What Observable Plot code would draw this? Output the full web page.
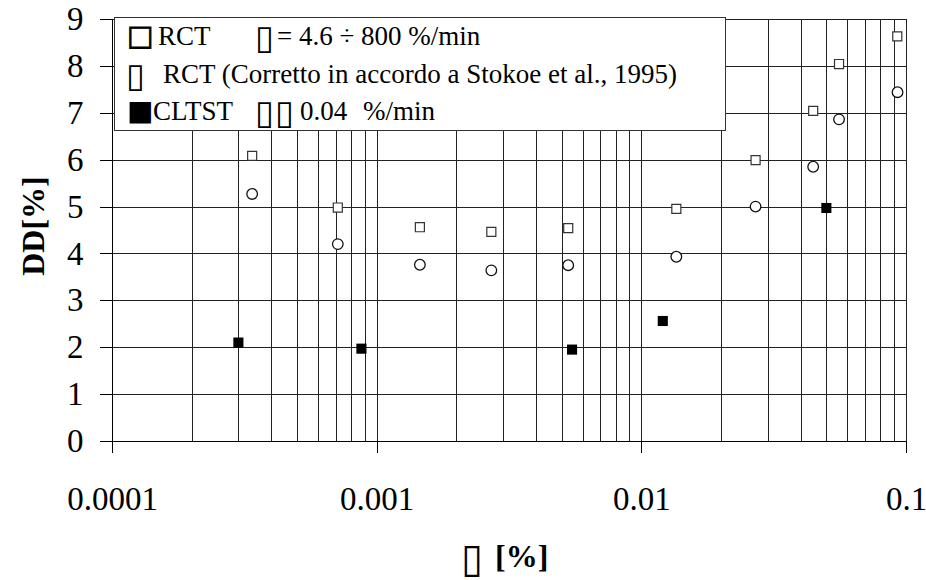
<!DOCTYPE html>
<html>
<head>
<meta charset="utf-8">
<script src="https://cdn.jsdelivr.net/npm/d3@7"></script>
<script src="https://cdn.jsdelivr.net/npm/@observablehq/plot@0.6"></script>
<style>
  html, body { margin: 0; padding: 0; background: #fff; }
  #chart svg { display: block; }
</style>
</head>
<body>
<div id="chart"></div>
<script>
// Damping ratio D [%] against shear strain γ [%]
// RCT measurements (open squares)
const rctStrain = [3.37e-4, 7.10e-4, 1.45e-3, 2.70e-3, 5.27e-3, 1.35e-2, 2.69e-2, 4.44e-2, 5.56e-2, 9.23e-2];
const rctDamping = [6.09, 4.99, 4.57, 4.47, 4.55, 4.96, 6.00, 7.05, 8.05, 8.64];

// RCT corrected after Stokoe et al., 1995 (open circles)
const corrStrain = [3.37e-4, 7.10e-4, 1.45e-3, 2.70e-3, 5.27e-3, 1.35e-2, 2.69e-2, 4.44e-2, 5.56e-2, 9.25e-2];
const corrDamping = [5.28, 4.21, 3.77, 3.65, 3.76, 3.94, 5.01, 5.86, 6.87, 7.45];

// CLTST measurements (filled squares)
const cltstStrain = [2.99e-4, 8.72e-4, 5.45e-3, 1.20e-2, 4.98e-2];
const cltstDamping = [2.11, 1.98, 1.96, 2.57, 4.98];

// Axis ticks
const xTicks = [0.0001, 0.001, 0.01, 0.1];
const xTickLabels = ["0.0001", "0.001", "0.01", "0.1"];
const yTicks = [0, 1, 2, 3, 4, 5, 6, 7, 8, 9];

// Legend and axis titles
const legendLines = [
  ["□", "RCT", "▯", "= 4.6 ÷ 800 %/min"],
  ["▯", "RCT (Corretto in accordo a Stokoe et al., 1995)"],
  ["■", "CLTST", "▯", "▯", "0.04", "%/min"]
];
const xTitle = ["▯", "[%]"];
const yTitle = "DD[%]";

const rct = rctStrain.map((x, i) => ({x, y: rctDamping[i]}));
const corr = corrStrain.map((x, i) => ({x, y: corrDamping[i]}));
const cltst = cltstStrain.map((x, i) => ({x, y: cltstDamping[i]}));

// Log grid: 1..9 within each decade, plus the closing decade
const xGrid = [];
for (const d of [1e-4, 1e-3, 1e-2]) for (let k = 1; k <= 9; k++) xGrid.push(+(k * d).toPrecision(3));
xGrid.push(0.1);

const gridColor = "#222";
const serif = "Liberation Serif, Times New Roman, serif";

const chart = Plot.plot({
  width: 926,
  height: 580,
  marginLeft: 112,
  marginRight: 20,
  marginTop: 19,
  marginBottom: 139,
  style: {fontFamily: serif, background: "#fff", color: "#000"},
  x: {type: "log", domain: [1e-4, 0.1]},
  y: {domain: [0, 9]},
  marks: [
    Plot.ruleX(xGrid, {stroke: gridColor, strokeWidth: 1, shapeRendering: "crispEdges"}),
    Plot.ruleY(yTicks.filter(d => d > 0), {stroke: gridColor, strokeWidth: 1, shapeRendering: "crispEdges"}),
    Plot.axisX({
      ticks: xTicks,
      tickFormat: d => xTickLabels[xTicks.indexOf(d)],
      tickSize: 12,
      tickPadding: 33,
      fontSize: 33,
      label: null,
      stroke: "#000",
      shapeRendering: "crispEdges"
    }),
    Plot.axisY({
      ticks: yTicks,
      tickSize: 12,
      tickPadding: 17,
      fontSize: 33,
      label: null,
      stroke: "#000",
      shapeRendering: "crispEdges"
    }),
    Plot.ruleY([0], {stroke: "#000", shapeRendering: "crispEdges"}),
    Plot.ruleX([1e-4], {stroke: "#000", shapeRendering: "crispEdges"}),
    Plot.dot(corr, {x: "x", y: "y", symbol: "circle", r: 5.3, stroke: "#111", strokeWidth: 1.3, fill: "#fff"}),
    Plot.dot(rct, {x: "x", y: "y", symbol: "square", r: 5.1, stroke: "#333", strokeWidth: 1.2, fill: "#fff"}),
    Plot.dot(cltst, {x: "x", y: "y", symbol: "square", r: 5.7, stroke: "none", fill: "#000"})
  ]
});

document.getElementById("chart").appendChild(chart);

const svg = d3.select(chart);
const tofuFont = "DejaVu Sans, sans-serif";

// Legend box in the upper left of the frame
const lg = svg.append("g")
  .attr("font-family", serif)
  .attr("font-size", 27)
  .attr("text-anchor", "start");
lg.append("rect")
  .attr("x", 114.5).attr("y", 17.5).attr("width", 611).attr("height", 113)
  .attr("fill", "#fff").attr("stroke", "#333").attr("stroke-width", 1);

const rowY = [45, 83, 120];
const colX = [
  [127, 158, 255, 277],
  [126, 163],
  [127, 153, 255, 275, 300, 363]
];
legendLines.forEach((parts, r) => {
  const t = lg.append("text").attr("y", rowY[r]);
  parts.forEach((s, c) => {
    const sp = t.append("tspan").attr("x", colX[r][c]).text(s);
    if (s === "▯") sp.attr("font-family", tofuFont).attr("font-size", 34).attr("dy", c === 0 || parts[c - 1] !== "▯" ? 4 : 0);
    else if (/[□■]/.test(s)) sp.attr("font-family", tofuFont).attr("font-size", 28).attr("stroke", s === "□" ? "#000" : "none").attr("stroke-width", 0.8);
    if (s !== "▯" && c > 0 && parts[c - 1] === "▯") sp.attr("dy", -4);
  });
});

// Axis titles
const xt = svg.append("text")
  .attr("y", 567)
  .attr("font-family", serif)
  .attr("font-size", 32)
  .attr("text-anchor", "start");
xt.append("tspan").attr("x", 461).attr("dy", 5).attr("font-family", tofuFont).attr("font-size", 40).text(xTitle[0]);
xt.append("tspan").attr("x", 495).attr("dy", -5).attr("font-weight", "bold").text(xTitle[1]);

svg.append("text")
  .attr("transform", "translate(44,226) rotate(-90)")
  .attr("text-anchor", "middle")
  .attr("font-family", serif)
  .attr("font-size", 32)
  .attr("font-weight", "bold")
  .text(yTitle);
</script>
</body>
</html>
